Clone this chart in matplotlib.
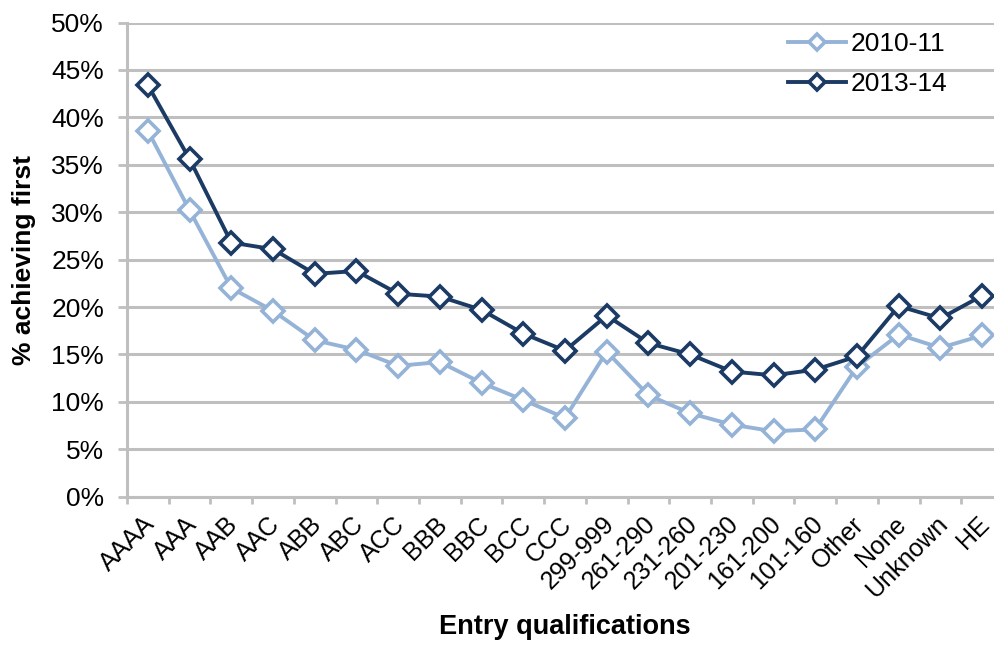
import numpy as np
import matplotlib.pyplot as plt
from matplotlib.ticker import FixedLocator, PercentFormatter

plt.rcParams['font.family'] = ['Liberation Sans', 'DejaVu Sans']

# categorias del eje x
cats = ['AAAA', 'AAA', 'AAB', 'AAC', 'ABB', 'ABC', 'ACC', 'BBB', 'BBC', 'BCC',
        'CCC', '299-999', '261-290', '231-260', '201-230', '161-200', '101-160',
        'Other', 'None', 'Unknown', 'HE']

# % achieving first
v_1011 = [38.6, 30.2, 22.0, 19.6, 16.5, 15.5, 13.8, 14.2, 12.0, 10.2,
          8.3, 15.3, 10.7, 8.8, 7.6, 6.9, 7.1, 13.7, 17.1, 15.7, 17.0]
v_1314 = [43.4, 35.6, 26.8, 26.1, 23.5, 23.8, 21.4, 21.1, 19.7, 17.2,
          15.4, 19.1, 16.2, 15.0, 13.2, 12.8, 13.4, 14.8, 20.1, 18.8, 21.2]

c_claro = '#95B3D7'
c_oscuro = '#1B3A64'
gris = '#BFBFBF'

fig = plt.figure(figsize=(9.95, 6.46), dpi=100)
ax = fig.add_axes([127/995, 0.2311, 876/995, 0.734])

x = np.arange(len(cats))
ax.plot(x, v_1011, '-D', color=c_claro, lw=2.8, ms=11, mfc='white',
        mec=c_claro, mew=2.6, label='2010-11', zorder=3)
ax.plot(x, v_1314, '-D', color=c_oscuro, lw=2.8, ms=11, mfc='white',
        mec=c_oscuro, mew=2.6, label='2013-14', zorder=4)

ax.set_xlim(-0.5, len(cats) - 0.5)
ax.set_ylim(0, 50)
ax.set_yticks(np.arange(0, 51, 5))
ax.yaxis.set_major_formatter(PercentFormatter(decimals=0))
ax.grid(axis='y', color=gris, lw=2.2)
ax.set_axisbelow(True)

# etiquetas un poco a la izquierda de cada categoria (ticks mayores invisibles)
ax.set_xticks(x - 0.12)
ax.set_xticklabels(cats, rotation=45, ha='right', rotation_mode='anchor')
ax.xaxis.set_minor_locator(FixedLocator(np.arange(-0.5, len(cats), 1)))
ax.tick_params(axis='x', which='major', length=0, pad=11, labelsize=18)
ax.tick_params(axis='x', which='minor', length=5, width=2, color=gris)
ax.tick_params(axis='y', length=6.5, width=2, color=gris, labelsize=19, pad=10)

for s in ['top', 'right']:
    ax.spines[s].set_visible(False)
for s in ['left', 'bottom']:
    ax.spines[s].set_color(gris)
    ax.spines[s].set_linewidth(2.2)

ax.set_ylabel('% achieving first', fontsize=19, fontweight='bold')
ax.yaxis.set_label_coords(-0.104, 0.5)
ax.set_xlabel('Entry qualifications', fontsize=19.5, fontweight='bold')
ax.xaxis.set_label_coords(0.5, -0.247)

leg = ax.legend(loc='upper right', bbox_to_anchor=(0.964, 1.03), frameon=False,
                fontsize=19, markerscale=0.75, handlelength=2.2,
                handletextpad=0.2, labelspacing=0.6)

fig.savefig('out.png', dpi=100)
